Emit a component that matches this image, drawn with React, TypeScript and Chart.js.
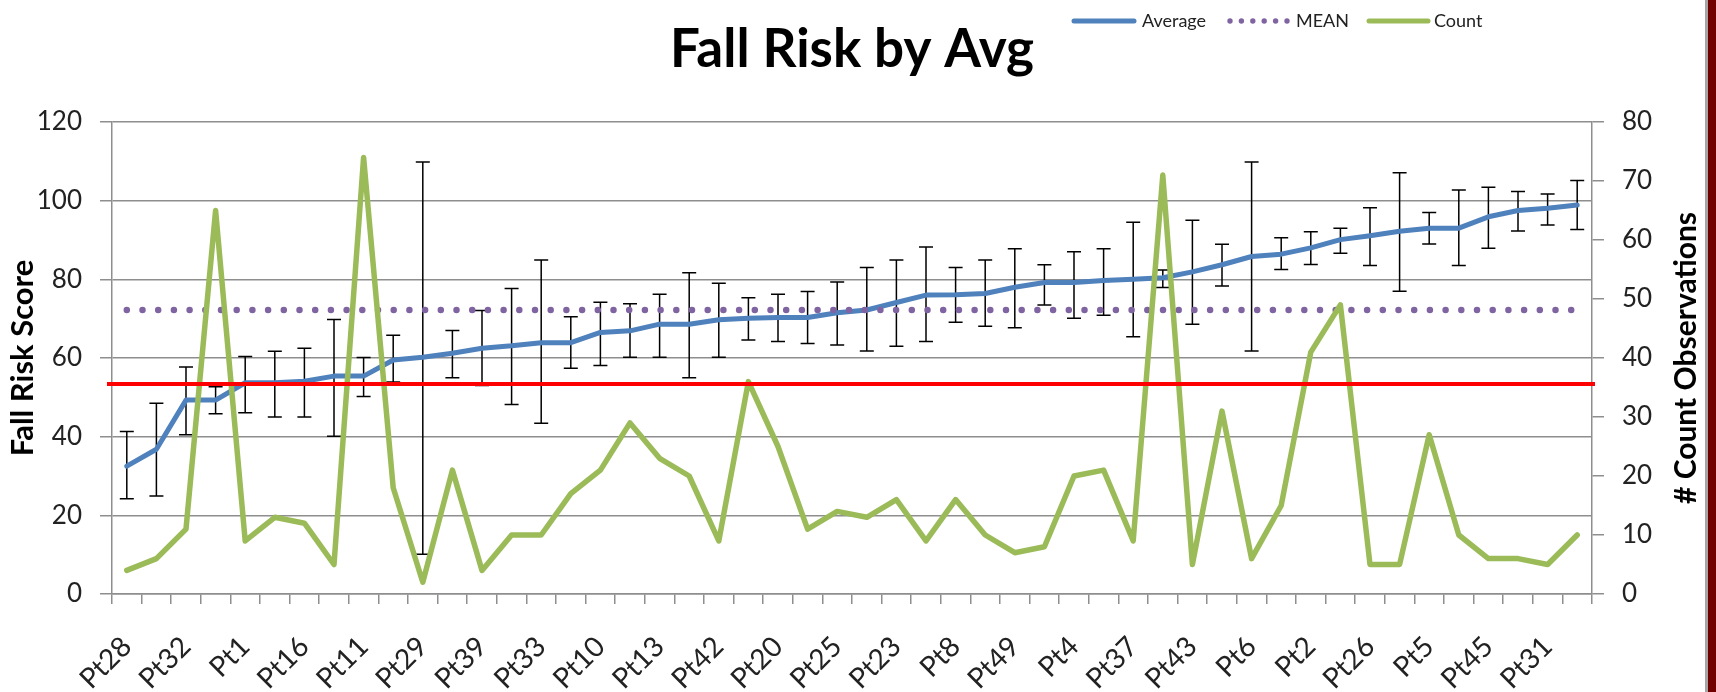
import React, { useEffect, useRef } from "react";
import { Chart, registerables } from "chart.js";

Chart.register(...registerables);

const categories: string[] = [
  "Pt28", "", "Pt32", "", "Pt1", "", "Pt16", "", "Pt11", "",
  "Pt29", "", "Pt39", "", "Pt33", "", "Pt10", "", "Pt13", "",
  "Pt42", "", "Pt20", "", "Pt25", "", "Pt23", "", "Pt8", "",
  "Pt49", "", "Pt4", "", "Pt37", "", "Pt43", "", "Pt6", "",
  "Pt2", "", "Pt26", "", "Pt5", "", "Pt45", "", "Pt31", "",
];

const averageValues: number[] = [
  32.5, 36.8, 49.3, 49.3, 53.7, 53.7, 54.1, 55.4, 55.4, 59.5,
  60.2, 61.2, 62.5, 63.1, 63.9, 63.9, 66.5, 66.9, 68.6, 68.6,
  69.7, 70.1, 70.3, 70.3, 71.5, 72.2, 74.1, 76.0, 76.1, 76.4,
  78.0, 79.2, 79.2, 79.7, 80.0, 80.4, 81.9, 83.7, 85.8, 86.4,
  88.0, 90.1, 91.1, 92.2, 93.0, 93.0, 95.9, 97.5, 98.1, 98.9,
];

const errorHigh: number[] = [
  41.3, 48.5, 57.7, 52.7, 60.4, 61.7, 62.5, 69.8, 60.1, 65.8,
  109.8, 67.0, 72.1, 77.7, 84.9, 70.5, 74.2, 73.8, 76.2, 81.7,
  79.0, 75.3, 76.2, 76.9, 79.3, 83.0, 84.9, 88.2, 83.0, 84.9,
  87.8, 83.7, 87.0, 87.8, 94.5, 82.4, 95.0, 88.9, 109.8, 90.6,
  92.1, 93.0, 98.2, 107.1, 97.0, 102.7, 103.4, 102.3, 101.7, 105.1,
];

const errorLow: number[] = [
  24.2, 24.9, 40.5, 45.8, 46.1, 45.0, 45.0, 40.1, 50.2, 53.9,
  10.1, 55.0, 53.0, 48.2, 43.4, 57.4, 58.1, 60.2, 60.2, 55.0,
  60.2, 64.6, 64.2, 63.7, 63.3, 61.8, 63.0, 64.2, 69.1, 68.1,
  67.7, 73.5, 70.1, 70.9, 65.4, 77.9, 68.6, 78.3, 61.8, 82.5,
  83.8, 86.6, 83.5, 77.0, 89.0, 83.5, 87.9, 92.3, 93.8, 92.7,
];

const countValues: number[] = [
  4, 6, 11, 65, 9, 13, 12, 5, 74, 18,
  2, 21, 4, 10, 10, 17, 21, 29, 23, 20,
  9, 36, 25, 11, 14, 13, 16, 9, 16, 10,
  7, 8, 20, 21, 9, 71, 5, 31, 6, 15,
  41, 49, 5, 5, 27, 10, 6, 6, 5, 10,
];

const MEAN_VALUE = 72.2;
const THRESHOLD_VALUE = 53.4;

const leftTicks = { min: 0, max: 120, step: 20 };
const rightTicks = { min: 0, max: 80, step: 10 };

const TITLE = "Fall Risk by Avg";
const LEFT_TITLE = "Fall Risk Score";
const RIGHT_TITLE = "# Count Observations";
const legendLabels = ["Average", "MEAN", "Count"];

const BLUE = "#4F81BD";
const PURPLE = "#8064A2";
const GREEN = "#9BBB59";
const GRID = "#8e8e8e";
const FONT = "Lato, 'Open Sans', sans-serif";

const decorPlugin = {
  id: "decor",
  beforeDatasetsDraw(chart: any) {
    const ctx = chart.ctx;
    const xs = chart.scales.x;
    const ys = chart.scales.y;
    ctx.save();
    ctx.strokeStyle = "#000";
    ctx.lineWidth = 1.5;
    for (let i = 0; i < categories.length; i++) {
      const x = xs.getPixelForValue(i);
      const yt = ys.getPixelForValue(errorHigh[i]);
      const yb = ys.getPixelForValue(errorLow[i]);
      ctx.beginPath();
      ctx.moveTo(x, yt);
      ctx.lineTo(x, yb);
      ctx.moveTo(x - 7, yt);
      ctx.lineTo(x + 7, yt);
      ctx.moveTo(x - 7, yb);
      ctx.lineTo(x + 7, yb);
      ctx.stroke();
    }
    ctx.restore();
  },
  afterDatasetsDraw(chart: any) {
    const ctx = chart.ctx;
    const ys = chart.scales.y;
    const a = chart.chartArea;
    const y = ys.getPixelForValue(THRESHOLD_VALUE);
    ctx.save();
    ctx.strokeStyle = "#FF0000";
    ctx.lineWidth = 4;
    ctx.beginPath();
    ctx.moveTo(a.left - 5, y);
    ctx.lineTo(a.right + 3, y);
    ctx.stroke();
    ctx.restore();
  },
  afterDraw(chart: any) {
    const ctx = chart.ctx;
    const a = chart.chartArea;
    const cy = (a.top + a.bottom) / 2;
    ctx.save();
    // Title
    ctx.fillStyle = "#000";
    ctx.font = `bold 53px ${FONT}`;
    ctx.textAlign = "center";
    ctx.textBaseline = "alphabetic";
    ctx.fillText(TITLE, 852, 67);

    // Axis titles
    ctx.textBaseline = "middle";
    ctx.font = `bold 31px ${FONT}`;
    ctx.save();
    ctx.translate(23, cy);
    ctx.rotate(-Math.PI / 2);
    ctx.fillText(LEFT_TITLE, 0, 0);
    ctx.restore();
    ctx.font = `bold 30px ${FONT}`;
    ctx.save();
    ctx.translate(1686, cy);
    ctx.rotate(-Math.PI / 2);
    ctx.fillText(RIGHT_TITLE, 0, 0);
    ctx.restore();

    // Legend
    const ly = 21;
    ctx.lineCap = "round";
    ctx.lineWidth = 5;
    ctx.strokeStyle = BLUE;
    ctx.beginPath();
    ctx.moveTo(1074, ly);
    ctx.lineTo(1134, ly);
    ctx.stroke();
    ctx.fillStyle = PURPLE;
    for (let k = 0; k < 6; k++) {
      ctx.beginPath();
      ctx.arc(1230 + k * 11.4, ly, 2.7, 0, Math.PI * 2);
      ctx.fill();
    }
    ctx.strokeStyle = GREEN;
    ctx.beginPath();
    ctx.moveTo(1369, ly);
    ctx.lineTo(1428, ly);
    ctx.stroke();
    ctx.fillStyle = "#222";
    ctx.font = `18px ${FONT}`;
    ctx.textAlign = "left";
    ctx.textBaseline = "middle";
    ctx.fillText(legendLabels[0], 1142, ly);
    ctx.fillText(legendLabels[1], 1296, ly);
    ctx.fillText(legendLabels[2], 1434, ly);
    ctx.restore();
  },
};

export default function App() {
  const ref = useRef<HTMLCanvasElement | null>(null);

  useEffect(() => {
    document.body.style.margin = "0";
    if (!ref.current) return;
    const chart = new Chart(ref.current, {
      type: "line",
      data: {
        labels: categories,
        datasets: [
          {
            label: legendLabels[0],
            data: averageValues,
            yAxisID: "y",
            borderColor: BLUE,
            borderWidth: 5,
            pointRadius: 0,
            borderJoinStyle: "round",
            borderCapStyle: "round",
            tension: 0,
            order: 2,
          },
          {
            label: legendLabels[1],
            data: categories.map(() => MEAN_VALUE),
            yAxisID: "y",
            borderColor: PURPLE,
            borderWidth: 6.5,
            borderDash: [0, 15.7],
            borderCapStyle: "round",
            pointRadius: 0,
            tension: 0,
            order: 1,
          },
          {
            label: legendLabels[2],
            data: countValues,
            yAxisID: "y1",
            borderColor: GREEN,
            borderWidth: 5.5,
            pointRadius: 0,
            borderJoinStyle: "round",
            borderCapStyle: "round",
            tension: 0,
            order: 0,
          },
        ],
      },
      options: {
        animation: false,
        responsive: false,
        events: [],
        layout: { padding: { top: 122, left: 0, right: 0, bottom: 0 } },
        plugins: {
          legend: { display: false },
          title: { display: false },
          tooltip: { enabled: false },
        },
        scales: {
          x: {
            type: "category",
            offset: true,
            grid: {
              offset: true,
              drawOnChartArea: false,
              drawTicks: true,
              tickLength: 10,
              color: GRID,
              lineWidth: 1.5,
            },
            border: { display: true, color: GRID, width: 1.5 },
            ticks: {
              autoSkip: false,
              maxRotation: 45,
              minRotation: 45,
              font: { family: FONT, size: 28 },
              color: "#222",
              padding: 26,
            },
            afterFit: (s: any) => {
              s.height = 98;
            },
          },
          y: {
            position: "left",
            min: leftTicks.min,
            max: leftTicks.max,
            ticks: {
              stepSize: leftTicks.step,
              font: { family: FONT, size: 26 },
              color: "#222",
              padding: 18,
            },
            grid: { color: GRID, lineWidth: 1.5, tickLength: 12 },
            border: { display: true, color: GRID, width: 1.5 },
            afterFit: (s: any) => {
              s.width = 112;
            },
          },
          y1: {
            position: "right",
            min: rightTicks.min,
            max: rightTicks.max,
            ticks: {
              stepSize: rightTicks.step,
              font: { family: FONT, size: 26 },
              color: "#222",
              padding: 18,
            },
            grid: { drawOnChartArea: false, color: GRID, lineWidth: 1.5, tickLength: 12 },
            border: { display: true, color: GRID, width: 1.5 },
            afterFit: (s: any) => {
              s.width = 113;
            },
          },
        },
      },
      plugins: [decorPlugin],
    } as any);
    return () => chart.destroy();
  }, []);

  return (
    <div style={{ position: "relative", width: 1716, height: 692, background: "#fff", overflow: "hidden" }}>
      <canvas ref={ref} width={1705} height={692} style={{ position: "absolute", left: 0, top: 0, width: 1705, height: 692 }} />
      <div style={{ position: "absolute", left: 1705, top: 0, width: 3, height: 692, background: "#a6a6a6" }} />
      <div style={{ position: "absolute", left: 1708, top: 0, width: 8, height: 692, background: "#700000" }} />
    </div>
  );
}
